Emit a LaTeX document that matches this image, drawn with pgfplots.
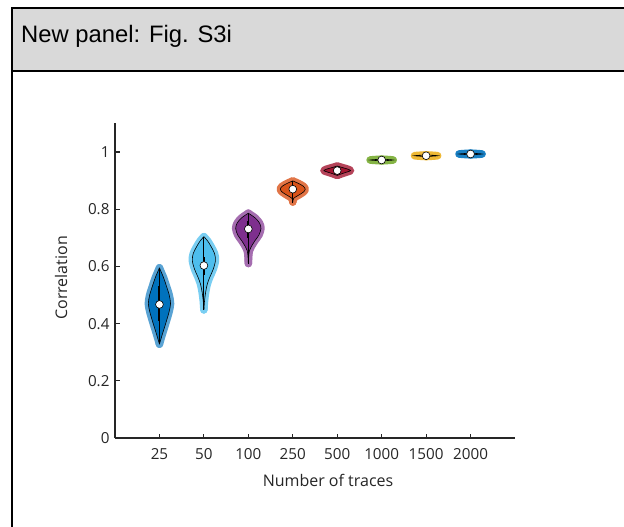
\documentclass[border=0pt]{standalone}
\usepackage{fontspec}
\setmainfont{Open Sans}
\newfontfamily\headfont{Liberation Sans}
\usepackage{pgfplots}
\usepackage{pgfplotstable}
\pgfplotsset{compat=1.18}

\definecolor{cBlue}{HTML}{0072BD}
\definecolor{cSky}{HTML}{4DBEEE}
\definecolor{cPurple}{HTML}{7E2F8E}
\definecolor{cOrange}{HTML}{D95319}
\definecolor{cRed}{HTML}{A2142F}
\definecolor{cGreen}{HTML}{77AC30}
\definecolor{cYellow}{HTML}{EDB120}
\definecolor{cHead}{HTML}{D9D9D9}
\definecolor{cAxis}{HTML}{262626}

% half-width profiles (in category units) of each violin
\pgfplotstableread{
y w
0.328 0
0.36 0.06
0.40 0.14
0.44 0.215
0.47 0.25
0.50 0.22
0.53 0.16
0.56 0.095
0.595 0
}\violinA
\pgfplotstableread{
y w
0.448 0
0.48 0.015
0.51 0.04
0.54 0.08
0.565 0.14
0.59 0.21
0.62 0.26
0.645 0.24
0.67 0.16
0.69 0.08
0.704 0
}\violinB
\pgfplotstableread{
y w
0.61 0
0.635 0.008
0.655 0.025
0.67 0.07
0.69 0.15
0.71 0.24
0.733 0.285
0.752 0.25
0.77 0.15
0.786 0
}\violinC
\pgfplotstableread{
y w
0.825 0
0.838 0.02
0.848 0.12
0.86 0.24
0.87 0.28
0.88 0.24
0.89 0.13
0.899 0
}\violinD
\pgfplotstableread{
y w
0.918 0
0.925 0.12
0.931 0.24
0.935 0.30
0.94 0.24
0.945 0.13
0.951 0
}\violinE
\pgfplotstableread{
y w
0.969 0
0.972 0.26
0.975 0
}\violinF
\pgfplotstableread{
y w
0.984 0
0.987 0.26
0.990 0
}\violinG
\pgfplotstableread{
y w
0.990 0
0.993 0.26
0.996 0
}\violinH

% #1 profile, #2 position, #3 body colour, #4 halo colour
\newcommand\violin[4]{%
  \addplot[draw=#4, fill=#4, line width=7.5pt, line join=round, smooth] table[x expr=#2+\thisrow{w}, y=y] {#1} -- cycle;
  \addplot[draw=#4, fill=#4, line width=7.5pt, line join=round, smooth] table[x expr=#2-\thisrow{w}, y=y] {#1} -- cycle;
  \addplot[draw=none, fill=#3, smooth] table[x expr=#2+\thisrow{w}, y=y] {#1} -- cycle;
  \addplot[draw=none, fill=#3, smooth] table[x expr=#2-\thisrow{w}, y=y] {#1} -- cycle;
  \addplot[black, line width=0.6pt, smooth] table[x expr=#2+\thisrow{w}, y=y] {#1};
  \addplot[black, line width=0.6pt, smooth] table[x expr=#2-\thisrow{w}, y=y] {#1};
}
% #1 position, #2 min, #3 max, #4 q1, #5 q3, #6 median
\newcommand\stats[6]{%
  \addplot[black, line width=0.8pt] coordinates {(#1,#2) (#1,#3)};
  \addplot[black, line width=2pt] coordinates {(#1,#4) (#1,#5)};
  \addplot[only marks, mark=*, mark size=3.9pt, mark options={fill=white, draw=black, line width=0.6pt}] coordinates {(#1,#6)};
}

\begin{document}
\begin{tikzpicture}
\useasboundingbox (0pt,0pt) rectangle (624pt,-527pt);
\fill[white] (0pt,0pt) rectangle (624pt,-527pt);
% header band and frame
\fill[cHead] (12.2pt,-8.3pt) rectangle (624pt,-71pt);
\draw[line width=2pt] (12.2pt,-527pt) -- (12.2pt,-8.3pt) -- (624pt,-8.3pt);
\draw[line width=2pt] (12.2pt,-71pt) -- (624pt,-71pt);
\node[anchor=base west, inner sep=0pt, font=\headfont\fontsize{23.8pt}{28pt}\selectfont] at (21pt,-42.7pt) {New panel: Fig. S3i};

\begin{axis}[
  at={(115pt,-438pt)}, anchor=south west,
  scale only axis, width=400pt, height=314.6pt,
  xmin=0, xmax=9, ymin=0, ymax=1.1,
  axis x line=bottom, axis y line=left,
  axis line style={-, cAxis, line width=1.3pt},
  tick style={cAxis, line width=1.2pt},
  tick align=inside, major tick length=4.5pt,
  xtick={1,...,8},
  xticklabels={25,50,100,250,500,1000,1500,2000},
  ytick={0,0.2,0.4,0.6,0.8,1},
  yticklabels={0,0.2,0.4,0.6,0.8,1},
  /pgf/number format/assume math mode=true,
  ticklabel style={font=\fontsize{15.2pt}{18pt}\selectfont, text=cAxis},
  yticklabel style={xshift=-2pt},
  xticklabel style={yshift=-7pt},
  label style={font=\fontsize{16pt}{19pt}\selectfont, text=cAxis},
  xlabel={Number of traces},
  ylabel={Correlation},
  xlabel style={at={(axis description cs:0.5325,-0.1335)}, anchor=center},
  ylabel style={at={(axis description cs:-0.135,0.509)}, anchor=center},
  clip=false,
]
\violin{\violinA}{1}{cBlue}{cBlue!65!white}
\violin{\violinB}{2}{cSky}{cSky!75!white}
\violin{\violinC}{3}{cPurple}{cPurple!70!white}
\violin{\violinD}{4}{cOrange}{cOrange!80!white}
\violin{\violinE}{5}{cRed}{cRed!80!white}
\violin{\violinF}{6}{cGreen}{cGreen!90!white}
\violin{\violinG}{7}{cYellow}{cYellow!90!white}
\violin{\violinH}{8}{cBlue}{cBlue!90!white}

\stats{1}{0.328}{0.595}{0.41}{0.53}{0.467}
\stats{2}{0.448}{0.704}{0.57}{0.634}{0.603}
\stats{3}{0.61}{0.786}{0.70}{0.76}{0.731}
\stats{4}{0.82}{0.899}{0.855}{0.885}{0.870}
\stats{5}{0.918}{0.951}{0.928}{0.942}{0.935}
\stats{6}{0.969}{0.975}{0.970}{0.974}{0.972}
\stats{7}{0.984}{0.990}{0.985}{0.989}{0.987}
\stats{8}{0.990}{0.996}{0.991}{0.995}{0.993}
\end{axis}
\end{tikzpicture}
\end{document}
